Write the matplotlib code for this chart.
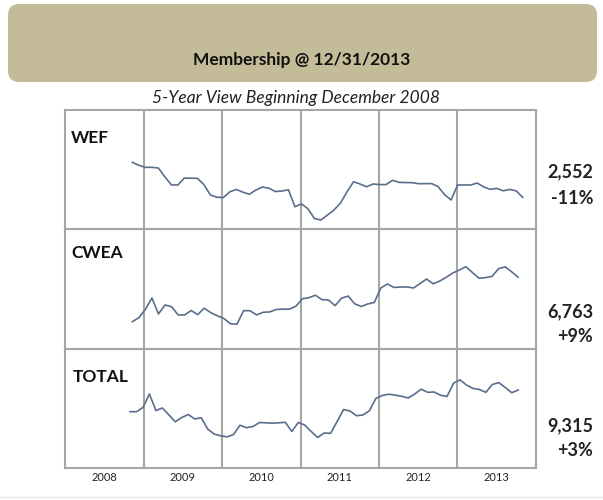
import numpy as np
import matplotlib.pyplot as plt
from matplotlib.patches import FancyBboxPatch

plt.rcParams['font.family'] = ['Lato', 'DejaVu Sans']

# ------- data (monthly membership, Dec 2008 - Dec 2013) -------
years = ['2008', '2009', '2010', '2011', '2012', '2013']
panels = ['WEF', 'CWEA', 'TOTAL']
latest = ['2,552', '6,763', '9,315']
change = ['-11%', '+9%', '+3%']

wef = [2867, 2840, 2822, 2822, 2816, 2737, 2664, 2663, 2726, 2724, 2723, 2667,
       2573, 2553, 2550, 2602, 2623, 2598, 2580, 2618, 2645, 2634, 2604, 2609,
       2620, 2467, 2493, 2449, 2361, 2348, 2393, 2438, 2501, 2602, 2692, 2672,
       2647, 2672, 2667, 2667, 2705, 2687, 2685, 2684, 2675, 2675, 2676, 2649,
       2576, 2528, 2663, 2663, 2663, 2681, 2646, 2624, 2633, 2611, 2623, 2610,
       2552]
cwea = [6205, 6254, 6360, 6502, 6302, 6414, 6393, 6289, 6289, 6345, 6293, 6374,
        6318, 6279, 6245, 6179, 6172, 6343, 6342, 6289, 6323, 6327, 6358, 6362,
        6362, 6398, 6492, 6506, 6537, 6481, 6477, 6406, 6500, 6526, 6429, 6396,
        6427, 6446, 6628, 6678, 6634, 6640, 6640, 6628, 6684, 6740, 6680, 6715,
        6762, 6816, 6853, 6895, 6822, 6750, 6758, 6774, 6870, 6893, 6831, 6763]
total = [9044, 9044, 9096, 9265, 9059, 9090, 9005, 8918, 8972, 9009, 8953, 8969,
         8828, 8765, 8743, 8730, 8759, 8875, 8844, 8859, 8909, 8905, 8900, 8905,
         8912, 8797, 8909, 8878, 8797, 8722, 8778, 8774, 8920, 9071, 9053, 8994,
         9003, 9056, 9210, 9246, 9263, 9250, 9236, 9215, 9265, 9325, 9286, 9290,
         9250, 9234, 9400, 9442, 9377, 9335, 9321, 9286, 9384, 9407, 9346, 9281,
         9315]
series = [wef, cwea, total]

# ------- layout -------
W, H = 603, 500
frame_l, frame_r, frame_t, frame_b = 65, 536, 110, 468
ylims = [(2264, 3338), (5866, 7364), (8341, 9831)]
xspan = [(10.29, 69.96), (10.29, 69.28), (9.94, 69.28)]   # month positions
label_y = [138, 253, 377]
val_y = [(172, 198), (312, 337), (426, 451)]
grid_col = '#a6a6a6'
line_col = '#5a6e8c'

fig = plt.figure(figsize=(W / 100, H / 100), dpi=100)

# background overlay in pixel coordinates
bg = fig.add_axes([0, 0, 1, 1])
bg.set_xlim(0, W)
bg.set_ylim(H, 0)
bg.axis('off')
box = FancyBboxPatch((8, 4), 589, 78, boxstyle='round,pad=0,rounding_size=11',
                     facecolor='#c4bc98', edgecolor='none')
bg.add_patch(box)
bg.text(W / 2, 60, 'Membership @ 12/31/2013', ha='center', va='center',
        fontsize=12.5, fontweight='bold', color='#111111')
bg.text(W / 2 - 6, 98, '5-Year View Beginning December 2008', ha='center',
        va='center', fontsize=12.5, fontstyle='italic', color='#222222')
bg.plot([0, W], [497, 497], color='#e6e6e6', lw=1)

ph = (frame_b - frame_t) / 3
for k in range(3):
    top = frame_t + k * ph
    ax = fig.add_axes([frame_l / W, 1 - (top + ph) / H,
                       (frame_r - frame_l) / W, ph / H])
    n = len(series[k])
    x = np.linspace(xspan[k][0], xspan[k][1], n)
    ax.plot(x, series[k], color=line_col, lw=1.2)
    ax.set_xlim(0, 72)
    ax.set_ylim(*ylims[k])
    for yr in range(1, 6):
        ax.axvline(yr * 12, color=grid_col, lw=1.5, zorder=0)
    for s in ax.spines.values():
        s.set_color(grid_col)
        s.set_linewidth(1.5)
    ax.set_yticks([])
    if k == 2:
        ax.set_xticks(np.arange(6) * 12 + 6)
        ax.set_xticklabels(years, fontsize=8, color='#222222')
        ax.tick_params(axis='x', length=0, pad=3)
    else:
        ax.set_xticks([])
    ax.patch.set_alpha(0)

    bg.text(71 if k < 2 else 73, label_y[k], panels[k], ha='left', va='center',
            fontsize=12.5, fontweight='bold', color='#111111')
    bg.text(593, val_y[k][0], latest[k], ha='right', va='center',
            fontsize=13, fontweight='bold', color='#222222')
    bg.text(593, val_y[k][1], change[k], ha='right', va='center',
            fontsize=13, fontweight='bold', color='#222222')

fig.savefig('out.png', dpi=100)
